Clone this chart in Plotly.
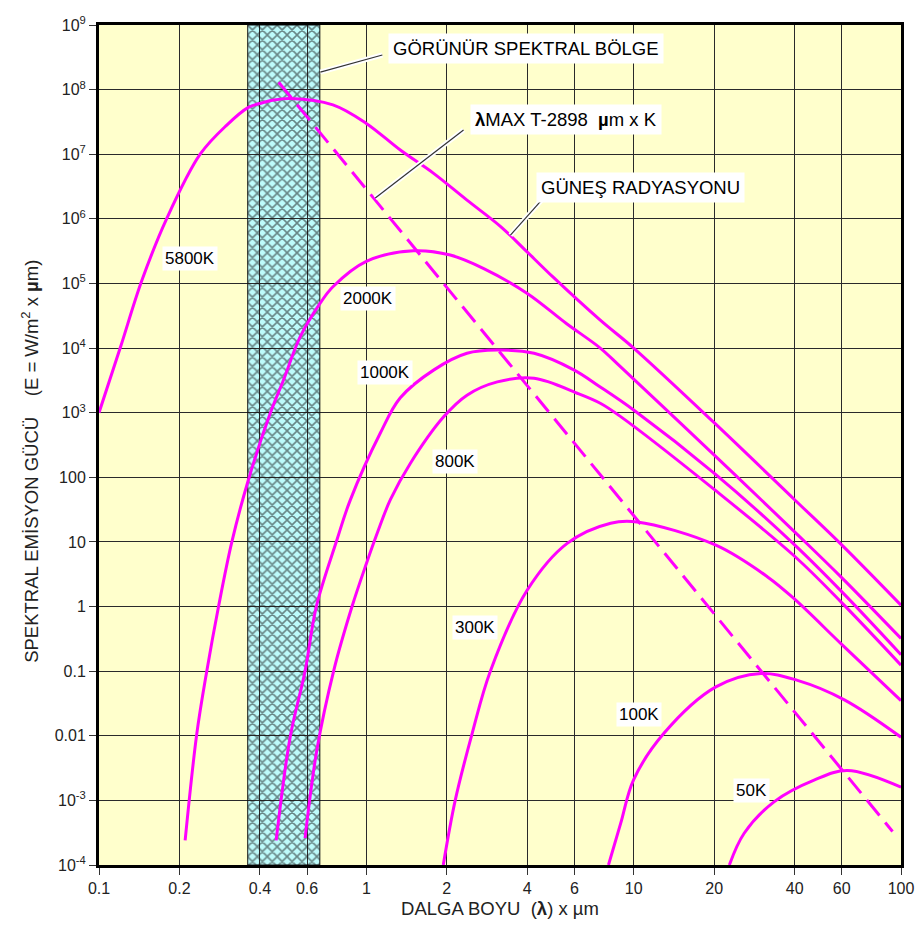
import plotly.graph_objects as go
import math

# ---------------- data (wavelength in µm, E in W/m² x µm) ----------------
T5800_X = [0.1, 0.12, 0.1445, 0.179, 0.239, 0.3, 0.362, 0.4, 0.45, 0.52, 0.75, 1.0, 1.34, 1.78,
           2.38, 3.18, 3.87, 5.0, 7.5, 10, 20, 40, 60, 100]
T5800_Y = [1e3, 1e4, 1.1e5, 1e6, 1e7, 2.8e7, 5.3e7, 6.1e7, 6.9e7, 7.3e7, 5.8e7, 3e7, 1.16e7, 5.1e6,
           1.95e6, 7.6e5, 3.5e5, 1.25e5, 2.7e4, 1e4, 700, 45, 9, 1.05]

T2000_X = [0.21, 0.232, 0.253, 0.28, 0.314, 0.362, 0.437, 0.49, 0.566, 0.673, 0.75, 1.0,
           1.5, 2.06, 2.75, 4.0, 5.6, 7.5, 8.94, 20.3, 41, 60, 100]
T2000_Y = [2.4e-4, 0.0105, 0.1, 1, 10, 91, 980, 3.2e3, 1.5e4, 5e4, 8.9e4, 2.2e5,
           3.2e5, 2.75e5, 1.7e5, 7e4, 2.4e4, 1e4, 5.1e3, 209, 13, 2.8, 0.32]

T1000_X = [0.46, 0.519, 0.59, 0.65, 0.776, 0.87, 1.127, 1.34, 1.79, 2.38, 3.08, 4.24, 5.97,
           7.5, 10, 20.3, 40, 60, 100]
T1000_Y = [2.4e-4, 0.0096, 0.1, 1, 10.7, 44, 480, 1.7e3, 4.6e3, 8.3e3, 9.3e3, 8.3e3, 4.6e3,
           2.5e3, 1.1e3, 110, 9, 1.7, 0.18]

T800_X = [0.59, 0.653, 0.756, 0.884, 1.0, 1.097, 1.23, 1.46, 1.95, 2.38, 3.09, 4.24, 6.15,
          7.5, 8.94, 20, 40, 60, 100]
T800_Y = [2.6e-4, 0.006, 0.104, 1, 4.6, 13.5, 45, 164, 870, 1.87e3, 3e3, 3.4e3, 2e3,
          1.4e3, 870, 65, 6, 1.15, 0.124]

T300_X = [1.94, 2.15, 2.49, 2.91, 4.0, 5.64, 8.2, 10.3, 20.3, 31.6, 40, 60, 100]
T300_Y = [1e-4, 1e-3, 0.011, 0.1, 1.8, 9.5, 19.5, 20.4, 8.9, 2.9, 1.3, 0.26, 0.035]

T100_X = [8.05, 8.94, 10, 13, 20.3, 29.9, 41, 61.4, 100]
T100_Y = [1e-4, 4.4e-4, 2.1e-3, 0.011, 0.057, 0.092, 0.072, 0.036, 0.0095]

T50_X = [22.8, 25.9, 33.5, 47.3, 63, 100]
T50_Y = [1e-4, 3.1e-4, 9.5e-4, 2.06e-3, 2.9e-3, 1.6e-3]

WIEN_X = [0.47, 93]
WIEN_Y = [1.3e8, 3.3e-4]

# visible band limits (µm) and axis limits
VIS_LO, VIS_HI = 0.36, 0.67
X_MIN, X_MAX = 0.1, 100
Y_MIN, Y_MAX = 1e-4, 1e9

X_TICKS = [0.1, 0.2, 0.4, 0.6, 1, 2, 4, 6, 10, 20, 40, 60, 100]
X_TICKTEXT = ["0.1", "0.2", "0.4", "0.6", "1", "2", "4", "6", "10", "20", "40", "60", "100"]
Y_TICKS = [1e-4, 1e-3, 1e-2, 1e-1, 1, 10, 100, 1e3, 1e4, 1e5, 1e6, 1e7, 1e8, 1e9]
Y_TICKTEXT = ["10<sup>-4</sup>", "10<sup>-3</sup>", "0.01", "0.1", "1", "10", "100",
              "10<sup>3</sup>", "10<sup>4</sup>", "10<sup>5</sup>", "10<sup>6</sup>",
              "10<sup>7</sup>", "10<sup>8</sup>", "10<sup>9</sup>"]

# curve labels: (text, x µm, y value)
CURVE_LABELS = [("5800K", 0.219, 2.47e5), ("2000K", 1.017, 5.94e4), ("1000K", 1.178, 4.25e3),
                ("800K", 2.15, 178), ("300K", 2.56, 0.48), ("100K", 10.45, 0.0216),
                ("50K", 27.7, 1.44e-3)]

# callouts: (text, label x, label y, leader from (x,y) to (x,y))
CALLOUTS = [
    ("GÖRÜNÜR SPEKTRAL BÖLGE", 3.94, 4.4e8, (0.673, 1.87e8), (1.148, 3.43e8)),
    ("<b>λ</b>MAX T-2898  <b>µ</b>m x K", 5.56, 3.4e7, (1.08, 2.1e6), (2.31, 2.37e7)),
    ("GÜNEŞ RADYASYONU", 10.6, 3.1e6, (3.46, 5.6e5), (4.56, 2.02e6)),
]

MAGENTA = "#ff00ff"
FONT = "Liberation Sans, Arial, sans-serif"
NB = "\u00a0"

fig = go.Figure()

# visible band: cyan background (below grid) + crosshatch pattern
fig.add_shape(type="rect", xref="x", yref="paper", x0=VIS_LO, x1=VIS_HI, y0=0, y1=1,
              fillcolor="#bdfbfb", line=dict(width=0), layer="below")
fig.add_trace(go.Scatter(
    x=[VIS_LO, VIS_HI, VIS_HI, VIS_LO, VIS_LO], y=[Y_MIN, Y_MIN, Y_MAX, Y_MAX, Y_MIN],
    mode="lines", fill="toself", fillcolor="rgba(0,0,0,0)",
    fillpattern=dict(shape="x", fgcolor="#111", bgcolor="rgba(0,0,0,0)", size=7, solidity=0.4),
    line=dict(color="#111", width=1), hoverinfo="skip", showlegend=False))

for xs, ys in [(T5800_X, T5800_Y), (T2000_X, T2000_Y), (T1000_X, T1000_Y), (T800_X, T800_Y),
               (T300_X, T300_Y), (T100_X, T100_Y), (T50_X, T50_Y)]:
    fig.add_trace(go.Scatter(x=xs, y=ys, mode="lines",
                             line=dict(color=MAGENTA, width=3, shape="spline", smoothing=1.0),
                             showlegend=False, hoverinfo="skip"))

fig.add_trace(go.Scatter(x=WIEN_X, y=WIEN_Y, mode="lines",
                         line=dict(color=MAGENTA, width=3, dash="20px,9px"),
                         showlegend=False, hoverinfo="skip"))

# leader lines (white halo + dark line)
for _, _, _, p0, p1 in CALLOUTS:
    for col, w in [("white", 5), ("#333", 1.2)]:
        fig.add_trace(go.Scatter(x=[p0[0], p1[0]], y=[p0[1], p1[1]], mode="lines",
                                 line=dict(color=col, width=w), showlegend=False, hoverinfo="skip"))

annotations = []
for txt, x, y in CURVE_LABELS:
    annotations.append(dict(x=math.log10(x), y=math.log10(y), xref="x", yref="y", text=txt,
                            showarrow=False, bgcolor="white", borderpad=2,
                            font=dict(family=FONT, size=17, color="black")))
for txt, x, y, _, _ in CALLOUTS:
    annotations.append(dict(x=math.log10(x), y=math.log10(y), xref="x", yref="y", text=txt,
                            showarrow=False, bgcolor="white", borderpad=4,
                            font=dict(family=FONT, size=18.5, color="black")))

# vertical axis title placed as a rotated annotation (centred slightly below mid-axis)
Y_TITLE = "SPEKTRAL EMİSYON GÜCÜ" + NB * 4 + "(E = W/m<sup>2</sup> x <b>µ</b>m)"
annotations.append(dict(x=-0.086, y=0.48, xref="paper", yref="paper", text=Y_TITLE,
                        textangle=-90, showarrow=False, xanchor="center", yanchor="middle",
                        font=dict(family=FONT, size=18.5, color="#222")))

fig.update_layout(
    width=917, height=929,
    margin=dict(l=99, r=16, t=25, b=64),
    paper_bgcolor="white", plot_bgcolor="#ffffcc",
    font=dict(family=FONT, size=16, color="#222"),
    showlegend=False,
    annotations=annotations,
    xaxis=dict(type="log", range=[math.log10(X_MIN), math.log10(X_MAX)], automargin=False,
               tickvals=X_TICKS, ticktext=X_TICKTEXT,
               showgrid=True, gridcolor="#2a2a2a", gridwidth=1,
               showline=True, linecolor="black", linewidth=3, mirror=True,
               ticks="outside", ticklen=7, tickcolor="#333", tickwidth=1,
               tickfont=dict(size=16, family=FONT),
               title=dict(text="DALGA BOYU  (<b>λ</b>) x µm", font=dict(size=18.5, family=FONT),
                          standoff=6)),
    yaxis=dict(type="log", range=[math.log10(Y_MIN), math.log10(Y_MAX)], automargin=False,
               tickvals=Y_TICKS, ticktext=Y_TICKTEXT,
               showgrid=True, gridcolor="#2a2a2a", gridwidth=1,
               showline=True, linecolor="black", linewidth=3, mirror=True,
               ticks="outside", ticklen=7, tickcolor="#333", tickwidth=1,
               tickfont=dict(size=16, family=FONT)),
)

fig.write_html("out.html")
